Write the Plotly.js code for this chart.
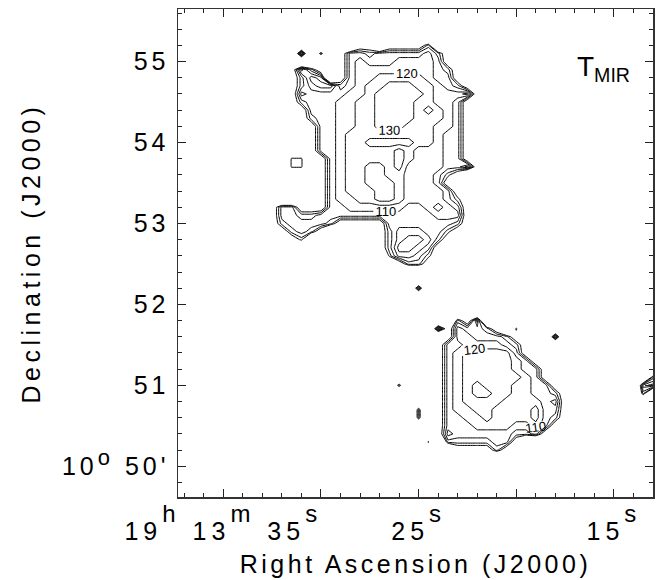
<!DOCTYPE html>
<html><head><meta charset="utf-8">
<script src="https://cdn.plot.ly/plotly-3.0.1.min.js"></script>
<style>body{margin:0;background:#fff}</style>
</head><body><div id="chart" style="width:662px;height:580px"></div>
<script>
// Grid of right ascension (seconds of 19h13m) and declination (arcmin past 10 deg)
const raGrid = [33.0,32.5,32.0,31.5,31.0,30.5,30.0,29.5,29.0,28.5,28.0,27.5,27.0,26.5,26.0,25.5,25.0,24.5,24.0,23.5,23.0,22.5,22.0,21.5,21.0,20.5,20.0,19.5,19.0,18.5,18.0,17.5,17.0,16.5,16.0,15.5,15.0,14.5,14.0,13.5,13.0,12.5];
const decGrid = [55.5,55.4,55.3,55.2,55.1,55.0,54.9,54.8,54.7,54.6,54.5,54.4,54.3,54.2,54.1,54.0,53.9,53.8,53.7,53.6,53.5,53.4,53.3,53.2,53.1,53.0,52.9,52.8,52.7,52.6,52.5,52.4,52.3,52.2,52.1,52.0,51.9,51.8,51.7,51.6,51.5,51.4,51.3,51.2,51.1,51.0,50.9,50.8,50.7,50.6,50.5,50.4,50.3,50.2,50.1,50.0,49.9];
const codeValue = {'.':0,'6':60,'8':85,'9':95,'a':105,'b':115,'c':125,'d':135};
const zRows = [
"",
"",
"",
".......... 66.66669",
"....d.9.6a a9aaaaab96",
"........6a baaabbbba6",
"...6c96.6a bbbbbbbba9 6",
"...69cb.6a bbcccccbaa 6",
"...69bcc9a bccdddccba 96",
"...6baaaab bcdddddcbb bc6",
"...69aaabb ccddddccbb a6",
"....6aaabb ccddddcdcb a6",
"....69aabb ccddddcccb a6",
".....6aabb ccdddcccbb a6",
".....6aabc ccccccccba a6",
".....6aabc cbbbbbccba a6",
".....6aabc ccccdcbbba a6",
"...88.6abc ccccdcbbba a6",
"...88.6abc cddcdbbbba ac6",
"......6abc cddccbbba8 6",
"......6abc cdddcbbba6",
"......6abc ccddcbbbba 6",
"......6abb ccddcbbbba 86",
".6aa666aab bbbbbaabcb a6",
".6aa99aaaa aaaaaaaabb b6",
".69aaaa966 666aaaaaaa 96",
"..69a96... ..69bbbaa8 6",
"...68..... ..69bccb96",
".......... ..69ccba6.",
".......... ...8bba86.",
".......... ....6996..",
"",
"",
".......... ......b...",
"",
"",
"",
".......... .......... 96c",
".......... ........c6 baa96.8",
".......... .........6 bbaaa96... c",
".......... ........6a abbbba96",
".......... ........6a bccccca6",
".......... ........6a bcccccba6",
".......... ........6a bcccccbaa6",
".......... ........6a bccccccba6 .......... 9",
".......... ....9...6a bcdcccbbaa 6........b c",
".......... ........6a bcddccbbaa 96.......9",
".......... ........6a bccccbbbba b6",
".......... ......9.6a bbccbbbbca a6",
".......... ......9.6a abbcbbbbca 96",
".......... ........6a aabbbbaaba 6",
".......... ........6b aaaaaa99a6",
".......... .......8.9 9999aa6",
".......... .......... 666696",
"",
"",
""
];
const outerLevels = {start: 80, end: 100, size: 10};
const labelledLevels = {start: 110, end: 130, size: 10};
const raTickVals = [35, 30, 25, 20, 15];
const raTickText = ['19<sup>h</sup> 13<sup>m</sup> 35<sup>s</sup>', '', '25<sup>s</sup>', '', '15<sup>s</sup>'];
const decTickVals = [55, 54, 53, 52, 51, 50];
const decTickText = ['55', '54', '53', '52', '51', "10<sup>o</sup> 50'"];
const xTitle = 'Right Ascension (J2000)';
const yTitle = 'Declination (J2000)';
const labelText = 'T<sub>MIR</sub>';

const z = zRows.map(r => r.replace(/ /g, '').padEnd(raGrid.length, '.').split('').map(ch => codeValue[ch]));

// wide, IDL-like lettering: extra letter spacing and tall superscripts
const spaced = (s, px) => '<span style="letter-spacing:' + px + 'px">' + s + '</span>';
const raLabel = s => spaced(s.replace(/<sup>(.*?)<\/sup>/g,
  '<sup><sup><span style="font-size:24px">$1</span></sup></sup>'), 5);
const decLabel = s => spaced(s.replace(/<sup>(.*?)<\/sup>/g,
  '<sup><span style="font-size:22px">$1</span></sup>'), 4);

const FONT = 'Liberation Sans, Arial, sans-serif';
const common = {type: 'contour', x: raGrid, y: decGrid, z: z, showscale: false, hoverinfo: 'skip'};
const traces = [
  Object.assign({}, common, {
    contours: Object.assign({coloring: 'none', showlabels: false}, outerLevels),
    line: {color: '#000', width: 1, smoothing: 0}
  }),
  Object.assign({}, common, {
    contours: Object.assign({coloring: 'none', showlabels: true,
      labelfont: {family: FONT, size: 13, color: '#000'}}, labelledLevels),
    line: {color: '#000', width: 1, smoothing: 0}
  })
];

const axisCommon = {
  ticks: 'inside', ticklen: 8, tickwidth: 1, tickcolor: '#222',
  showline: true, linecolor: '#333', linewidth: 1.5, mirror: 'ticks',
  showgrid: false, zeroline: false, tickmode: 'array', tickangle: 0,
  tickfont: {family: FONT, size: 25, color: '#000'}
};
const layout = {
  width: 662, height: 580,
  margin: {l: 178, r: 9, t: 9, b: 83},
  paper_bgcolor: '#fff', plot_bgcolor: '#fff',
  showlegend: false,
  font: {family: FONT, color: '#000'},
  xaxis: Object.assign({}, axisCommon, {
    range: [37.32, 13.0], tickvals: raTickVals, ticktext: raTickText.map(raLabel),
    minor: {tickmode: 'linear', tick0: 0, dtick: 1, ticks: 'inside', ticklen: 4, tickwidth: 1, tickcolor: '#222'},
    ticklabelstandoff: 11, ticklabeloverflow: 'allow',
    title: {text: spaced(xTitle, 3.5), font: {family: FONT, size: 25, color: '#000'}, standoff: 12}
  }),
  yaxis: Object.assign({}, axisCommon, {
    range: [49.62, 55.65], tickvals: decTickVals, ticktext: decTickText.map(decLabel),
    minor: {tickmode: 'linear', tick0: 0, dtick: 0.2, ticks: 'inside', ticklen: 4, tickwidth: 1, tickcolor: '#222'},
    ticklabelstandoff: 2,
    title: {text: spaced(yTitle, 4.5), font: {family: FONT, size: 25, color: '#000'}, standoff: 14}
  }),
  annotations: [{
    xref: 'paper', yref: 'paper', x: 0.835, y: 0.918, xanchor: 'left', yanchor: 'top',
    text: labelText, showarrow: false, font: {family: FONT, size: 28, color: '#000'}
  }]
};
Plotly.newPlot('chart', traces, layout, {displayModeBar: false, staticPlot: true});
</script>
</body></html>
